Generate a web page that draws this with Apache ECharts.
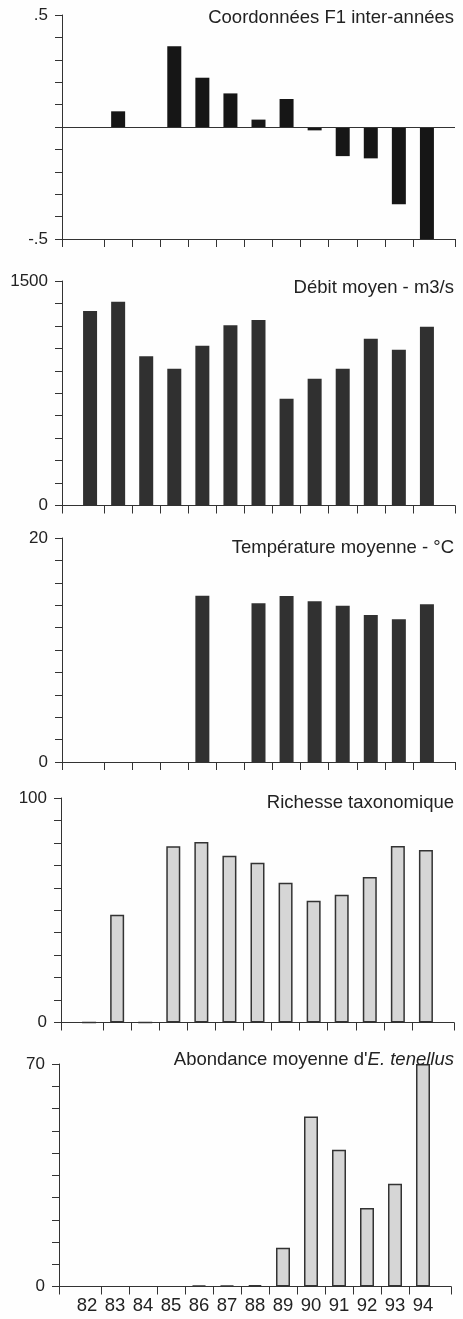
<!DOCTYPE html>
<html>
<head>
<meta charset="utf-8">
<script src="https://cdn.jsdelivr.net/npm/echarts@6/dist/echarts.min.js"></script>
<style>
  html, body { margin: 0; padding: 0; background: #fefefe; }
  #chart { width: 463px; height: 1319px; }
</style>
</head>
<body>
<div id="chart"></div>
<script>
// Years sampled (19xx) and their axis labels
const years = [82, 83, 84, 85, 86, 87, 88, 89, 90, 91, 92, 93, 94];
const yearLabels = ['82', '83', '84', '85', '86', '87', '88', '89', '90', '91', '92', '93', '94'];

// Inter-annual F1 coordinates
const f1Coords = [null, 0.07, null, 0.36, 0.22, 0.15, 0.033, 0.125, -0.015, -0.13, -0.14, -0.345, -0.5];
// Mean discharge (m3/s)
const flowMean = [1300, 1362, 998, 914, 1068, 1204, 1239, 713, 847, 914, 1114, 1041, 1195];
// Mean temperature (°C)
const tempMean = [null, null, null, null, 14.85, null, 14.17, 14.82, 14.35, 13.96, 13.13, 12.74, 14.08];
// Taxonomic richness
const taxaRichness = [0, 48, 0, 78.5, 80.4, 74.3, 71.2, 62.3, 54.2, 56.9, 64.8, 78.6, 76.8];
// Mean abundance of E. tenellus
const tenellusAbundance = [null, null, null, null, 0.3, 0.3, 0.45, 12.2, 53.5, 43, 24.7, 32.3, 70];

// Value-axis end labels for each panel
const f1AxisLabels = ['-.5', '.5'];
const flowAxisLabels = ['0', '1500'];
const tempAxisLabels = ['0', '20'];
const richAxisLabels = ['0', '100'];
const abundAxisLabels = ['0', '70'];

const FONT = '"Liberation Sans", Arial, Helvetica, sans-serif';
const INK = '#222';
const AXIS = '#333';

const panels = [
  { title: 'Coordonnées F1 inter-années', values: f1Coords, min: -0.5, max: 0.5, step: 0.1,
    labels: f1AxisLabels, fill: '#161616', top: 15, height: 224, left: 62, right: 8, titleTop: 8, zeroLine: true },
  { title: 'Débit moyen - m3/s', values: flowMean, min: 0, max: 1500, step: 150,
    labels: flowAxisLabels, fill: '#303030', top: 281, height: 224.5, left: 62, right: 8, titleTop: 278 },
  { title: 'Température moyenne - °C', values: tempMean, min: 0, max: 20, step: 2,
    labels: tempAxisLabels, fill: '#313131', top: 538, height: 224, left: 62, right: 8, titleTop: 538 },
  { title: 'Richesse taxonomique', values: taxaRichness, min: 0, max: 100, step: 10,
    labels: richAxisLabels, fill: '#d6d6d6', border: '#333', top: 798, height: 224.5, left: 61, right: 9, titleTop: 793 },
  { title: "Abondance moyenne d'{i|E. tenellus}", values: tenellusAbundance, min: 0, max: 70, step: 7,
    labels: abundAxisLabels, fill: '#d6d6d6', border: '#333', top: 1064, height: 222.5, left: 59, right: 12, titleTop: 1050,
    showYears: true }
];

const xMin = years[0] - 1;
const xMax = years[years.length - 1] + 1;
// ticks sit between the years, plus both ends of the axis
const xTicks = [xMin].concat(years.slice(0, -1).map(y => y + 0.5), [xMax]);

const option = {
  backgroundColor: '#fefefe',
  animation: false,
  title: panels.map(p => ({
    text: p.title,
    right: 9,
    top: p.titleTop,
    padding: 0,
    textStyle: {
      fontFamily: FONT, fontSize: 18.5, fontWeight: 'normal', color: INK,
      rich: { i: { fontFamily: FONT, fontSize: 18.5, fontStyle: 'italic', color: INK } }
    }
  })),
  grid: panels.map(p => ({ left: p.left, right: p.right, top: p.top, height: p.height })),
  xAxis: panels.map((p, i) => ({
    type: 'value',
    gridIndex: i,
    min: xMin,
    max: xMax,
    axisLine: { show: true, onZero: false, lineStyle: { color: AXIS, width: 1 } },
    axisTick: { show: true, customValues: xTicks, length: 8, lineStyle: { color: AXIS, width: 1 } },
    axisLabel: {
      show: !!p.showYears,
      customValues: years,
      formatter: v => yearLabels[years.indexOf(Math.round(v))] || '',
      fontFamily: FONT, fontSize: 18.5, color: INK, margin: 10
    },
    splitLine: { show: false }
  })),
  yAxis: panels.map((p, i) => ({
    type: 'value',
    gridIndex: i,
    min: p.min,
    max: p.max,
    interval: p.step,
    axisLine: { show: true, lineStyle: { color: AXIS, width: 1 } },
    axisTick: { show: true, length: 7, lineStyle: { color: AXIS, width: 1 } },
    axisLabel: {
      customValues: [p.min, p.max],
      formatter: v => (Math.abs(v - p.min) < 1e-9 ? p.labels[0] : p.labels[1]),
      fontFamily: FONT, fontSize: 17, color: INK, margin: 14
    },
    splitLine: { show: false }
  })),
  series: panels.map((p, i) => ({
    type: 'bar',
    xAxisIndex: i,
    yAxisIndex: i,
    barWidth: 14,
    data: years.map((y, k) => [y, p.values[k]]),
    itemStyle: p.border
      ? { color: p.fill, borderColor: p.border, borderWidth: 1.5 }
      : { color: p.fill },
    markLine: p.zeroLine ? {
      silent: true,
      symbol: 'none',
      label: { show: false },
      lineStyle: { color: AXIS, width: 1, type: 'solid' },
      data: [{ yAxis: 0 }]
    } : undefined
  }))
};

const chart = echarts.init(document.getElementById('chart'), null, { renderer: 'canvas' });
chart.setOption(option);
</script>
</body>
</html>
